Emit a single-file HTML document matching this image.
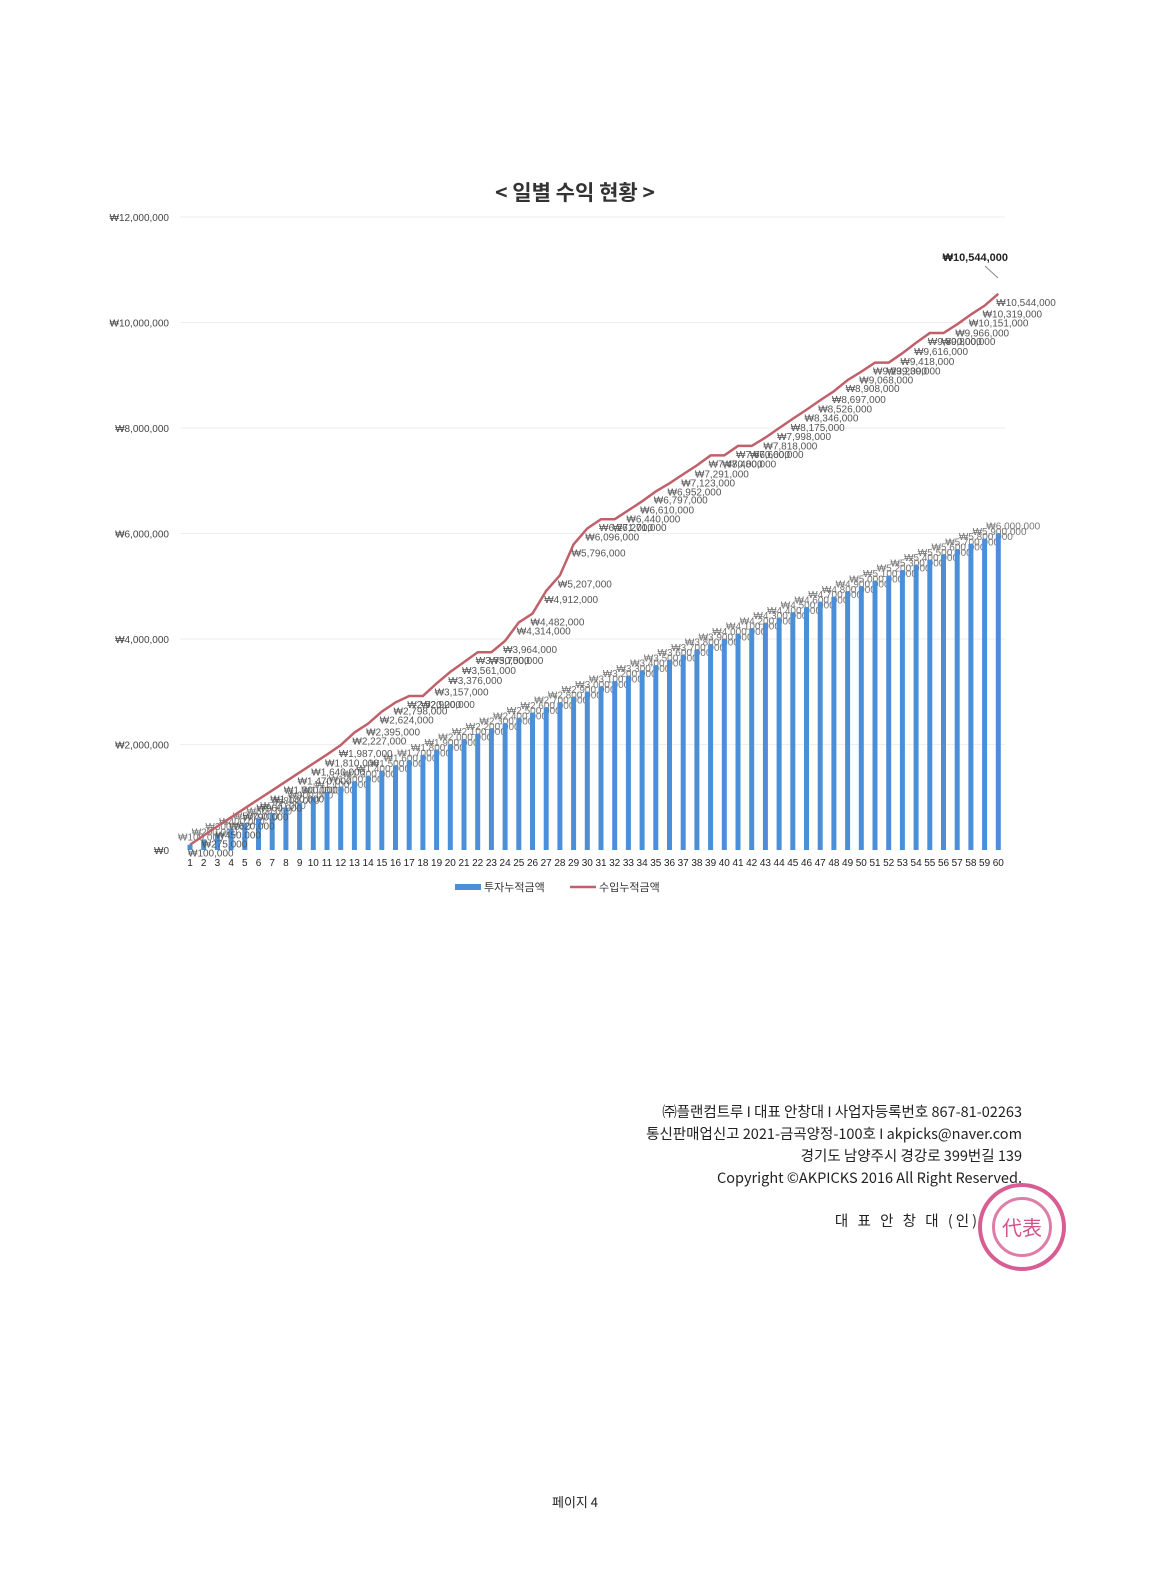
<!DOCTYPE html>
<html><head><meta charset="utf-8">
<style>
html,body{margin:0;padding:0;background:#fff;}
body{width:1150px;height:1577px;position:relative;overflow:hidden;font-family:"Liberation Sans","Noto Sans CJK KR",sans-serif;}
svg{position:absolute;left:0;top:0;}
.f{position:absolute;right:128px;text-align:right;font-size:14.5px;color:#222;font-family:"Noto Sans CJK KR","Liberation Sans",sans-serif;}
</style></head><body>
<svg id="c" width="1150" height="1577" xmlns="http://www.w3.org/2000/svg"></svg>
<div class="f" style="top:1101px">㈜플랜컴트루 I 대표 안창대 I 사업자등록번호 867-81-02263</div>
<div class="f" style="top:1123px">통신판매업신고 2021-금곡양정-100호 I akpicks@naver.com</div>
<div class="f" style="top:1145px">경기도 남양주시 경강로 399번길 139</div>
<div class="f" style="top:1167px">Copyright ©AKPICKS 2016 All Right Reserved.</div>
<div class="f" style="top:1210px;right:170px;letter-spacing:3px">대 표 안 창 대 (인)</div>
<div style="position:absolute;left:978px;top:1183px;width:88px;height:88px;border-radius:50%;border:4px solid rgba(200,40,110,0.75);box-sizing:border-box;"></div>
<div style="position:absolute;left:992px;top:1197px;width:60px;height:60px;border-radius:50%;border:3px solid rgba(200,40,110,0.6);box-sizing:border-box;color:rgba(200,40,110,0.8);font-size:20px;text-align:center;line-height:54px;font-family:'Noto Sans CJK KR',sans-serif;">代表</div>
<div style="position:absolute;left:0;width:1150px;top:1492px;text-align:center;font-size:13px;color:#222;font-family:'Noto Sans CJK KR',sans-serif;">페이지 4</div>
<script>
var s=document.getElementById('c'),h='';
function X(n){return 190+(n-1)*13.7;}
function Y(v){return 850-v*52.75/1000;}
function F(v){return '₩'+(v>=1000?Math.floor(v/1000)+','+String(v%1000).padStart(3,'0'):v)+',000';}
h+='<text x="575" y="200" text-anchor="middle" font-size="21" font-weight="bold" fill="#333" font-family="Noto Sans CJK KR,sans-serif">&lt; 일별 수익 현황 &gt;</text>';
var yl=['₩0','₩2,000,000','₩4,000,000','₩6,000,000','₩8,000,000','₩10,000,000','₩12,000,000'];
for(var i=0;i<7;i++){var y=850-i*105.5;h+='<text x="169" y="'+(y+4)+'" text-anchor="end" font-size="10" fill="#444">'+yl[i]+'</text>';
 if(i>0)h+='<line x1="180" x2="1005" y1="'+y+'" y2="'+y+'" stroke="#eee" stroke-width="1"/>';}
var L=[100,275,450,620,790,960,1130,1300,1470,1640,1810,1987,2227,2395,2624,2798,2920,2920,3157,3376,3561,3750,3750,3964,4314,4482,4912,5207,5796,6096,6271,6271,6440,6610,6797,6952,7123,7291,7480,7480,7660,7660,7818,7998,8175,8346,8526,8697,8908,9068,9239,9239,9418,9616,9800,9800,9966,10151,10319,10544];
for(var n=1;n<=60;n++){var x=X(n),v=n*100,y=Y(v);
 h+='<rect x="'+(x-2.5)+'" y="'+y+'" width="5" height="'+(850-y)+'" fill="#4a8fd8"/>';
 h+='<text x="'+x+'" y="866" text-anchor="middle" font-size="10" fill="#222">'+n+'</text>';
 h+='<text x="'+(x-12)+'" y="'+(y-4)+'" font-size="10" fill="#777">'+F(v)+'</text>';}
var p='';for(var n=1;n<=60;n++){p+=(n==1?'M':'L')+X(n)+','+Y(L[n-1]);}
h+='<path d="'+p+'" fill="none" stroke="#c0606a" stroke-width="2.5"/>';
for(var n=1;n<=60;n++){var v=L[n-1];
 h+='<text x="'+(X(n)-2)+'" y="'+(Y(v)+12)+'" font-size="10" fill="#555">'+F(v)+'</text>';}
h+='<text x="1008" y="261" text-anchor="end" font-size="11" font-weight="bold" fill="#222">₩10,544,000</text>';
h+='<line x1="985" y1="266" x2="998" y2="278" stroke="#888"/>';
h+='<rect x="455" y="884" width="26" height="6" fill="#4a8fd8"/><text x="484" y="891" font-size="11" fill="#333" font-family="Noto Sans CJK KR,sans-serif">투자누적금액</text>';
h+='<line x1="570" y1="887" x2="596" y2="887" stroke="#c0606a" stroke-width="2.5"/><text x="599" y="891" font-size="11" fill="#333" font-family="Noto Sans CJK KR,sans-serif">수입누적금액</text>';
s.innerHTML=h;
</script>
</body></html>
